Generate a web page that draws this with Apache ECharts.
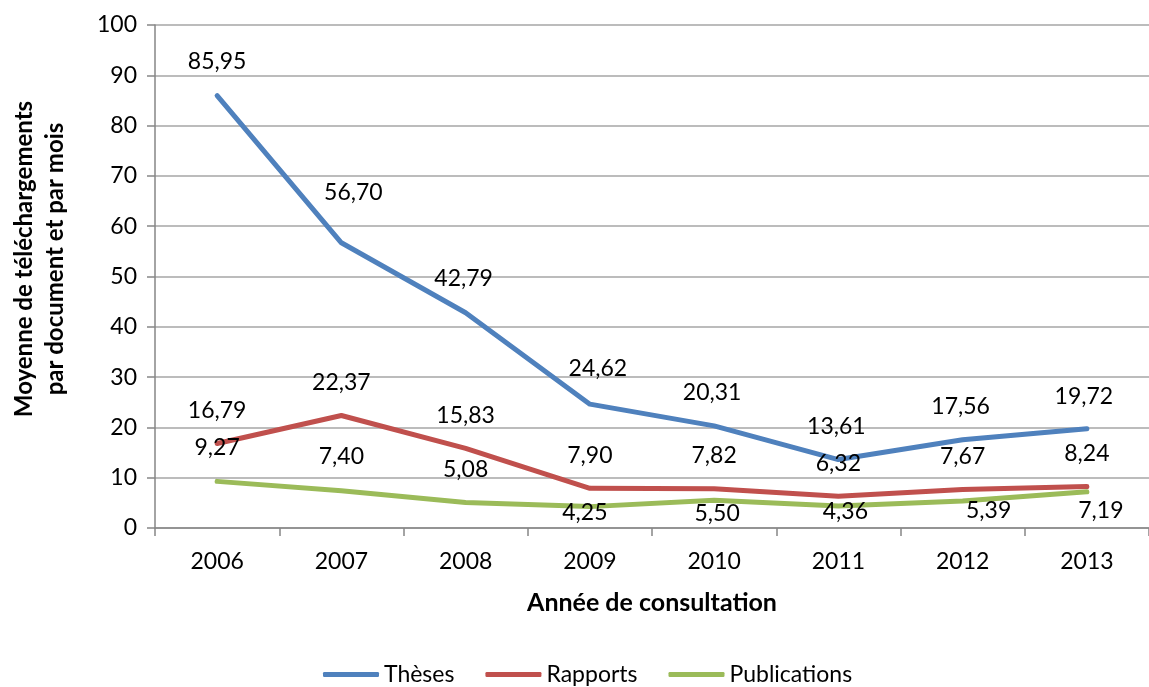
<!DOCTYPE html>
<html>
<head>
    <meta charset="utf-8" />
    <title>Moyenne de téléchargements</title>
    <script src="https://cdn.jsdelivr.net/npm/echarts@6/dist/echarts.min.js"></script>
    <style>
        html, body { margin: 0; padding: 0; background: #fff; }
        #container { width: 1149px; height: 687px; }
    </style>
</head>
<body>
    <div id="container"></div>
</body>
</html>
<script>
    // données
    var years = ['2006', '2007', '2008', '2009', '2010', '2011', '2012', '2013'];
    var theses = [85.95, 56.70, 42.79, 24.62, 20.31, 13.61, 17.56, 19.72];
    var rapports = [16.79, 22.37, 15.83, 7.90, 7.82, 6.32, 7.67, 8.24];
    var publications = [9.27, 7.40, 5.08, 4.25, 5.50, 4.36, 5.39, 7.19];

    // décalage des étiquettes (px), comme dans Excel
    var thesesOffset = [[0, -34], [12, -50], [-2, -34], [8, -36], [-2, -33], [-2, -33], [-2, -33], [-3, -32]];
    var rapportsOffset = [[0, -33], [0, -33], [0, -33], [0, -33], [0, -33], [0, -33], [0, -33], [0, -33]];
    var publicationsOffset = [[0, -34], [0, -34], [0, -33], [-5, 6], [3, 13], [7, 6], [26, 10], [14, 19]];

    var font = 'Lato, Carlito, Calibri, sans-serif';

    function withLabels(values, offsets) {
        return values.map(function (v, i) {
            return { value: v, label: { offset: offsets[i] } };
        });
    }

    function makeSeries(name, values, offsets, color) {
        return {
            name: name,
            type: 'line',
            data: withLabels(values, offsets),
            symbol: 'circle',
            symbolSize: 1,
            showSymbol: true,
            itemStyle: { color: color },
            lineStyle: { color: color, width: 5, cap: 'round', join: 'round' },
            label: {
                show: true,
                position: 'inside',
                align: 'center',
                verticalAlign: 'middle',
                color: '#000',
                fontFamily: font,
                fontSize: 23,
                formatter: function (p) { return p.value.toFixed(2).replace('.', ','); }
            },
            emphasis: { disabled: true },
            animation: false
        };
    }

    var myChart = echarts.init(document.getElementById('container'), null, { renderer: 'canvas' });

    var axisColor = '#868686';

    var option = {
        backgroundColor: '#fff',
        textStyle: { fontFamily: font },
        grid: { left: 155, top: 25, width: 1010, height: 503 },
        legend: {
            left: 318,
            top: 658,
            icon: 'roundRect',
            itemWidth: 56,
            itemHeight: 5,
            itemGap: 31,
            textStyle: { fontFamily: font, fontSize: 23, color: '#000' },
            data: ['Thèses', 'Rapports', 'Publications']
        },
        xAxis: {
            type: 'category',
            data: years,
            boundaryGap: true,
            name: 'Année de consultation',
            nameLocation: 'middle',
            nameGap: 62,
            nameTextStyle: { fontFamily: font, fontSize: 25, fontWeight: 'bold', color: '#000' },
            axisLine: { lineStyle: { color: axisColor, width: 1.5 } },
            axisTick: { show: true, length: 8, lineStyle: { color: axisColor, width: 1.5 } },
            axisLabel: { color: '#000', fontFamily: font, fontSize: 23, margin: 22 }
        },
        yAxis: {
            type: 'value',
            min: 0,
            max: 100,
            interval: 10,
            axisLine: { show: true, lineStyle: { color: axisColor, width: 1.5 } },
            axisTick: { show: true, length: 8, lineStyle: { color: axisColor, width: 1.5 } },
            axisLabel: { color: '#000', fontFamily: font, fontSize: 23, margin: 18 },
            splitLine: { lineStyle: { color: '#a6a6a6', width: 1.5 } }
        },
        graphic: [{
            type: 'text',
            x: 40,
            y: 259,
            rotation: Math.PI / 2,
            style: {
                text: 'Moyenne de téléchargements\npar document et par mois',
                fontFamily: font,
                fontSize: 24,
                fontWeight: 'bold',
                lineHeight: 31,
                fill: '#000',
                textAlign: 'center',
                textVerticalAlign: 'middle'
            }
        }],
        series: [
            makeSeries('Thèses', theses, thesesOffset, '#4f81bd'),
            makeSeries('Rapports', rapports, rapportsOffset, '#c0504d'),
            makeSeries('Publications', publications, publicationsOffset, '#9bbb59')
        ]
    };

    myChart.setOption(option);
</script>
